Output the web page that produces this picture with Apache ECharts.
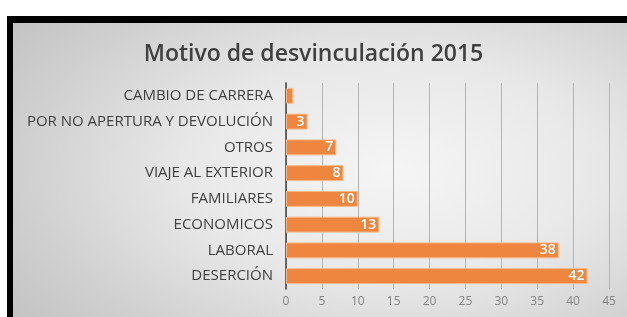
<!DOCTYPE html>
<html>
<head>
<meta charset="utf-8">
<script src="https://cdn.jsdelivr.net/npm/echarts@6/dist/echarts.min.js"></script>
<style>
  html, body { margin: 0; padding: 0; background: #ffffff; width: 627px; height: 317px; overflow: hidden; }
  #frame { position: absolute; left: 7px; top: 16px; width: 620px; height: 301px; background: #000; }
  #panel { position: absolute; left: 13px; top: 23px; width: 614px; height: 294px;
    background: radial-gradient(ellipse 75% 85% at 62% 50%, #f5f5f5 0%, #e8e8e8 45%, #d0d0d0 80%, #c4c4c4 100%); }
  #chart { position: absolute; left: 0; top: 0; width: 627px; height: 317px; }
</style>
</head>
<body>
<div id="frame"></div>
<div id="panel"></div>
<div id="chart"></div>
<script>
const titleText = 'Motivo de desvinculación 2015';
const categories = ['CAMBIO DE CARRERA', 'POR NO APERTURA Y DEVOLUCIÓN', 'OTROS', 'VIAJE AL EXTERIOR', 'FAMILIARES', 'ECONOMICOS', 'LABORAL', 'DESERCIÓN'];
const values = [1, 3, 7, 8, 10, 13, 38, 42];
const xTicks = [0, 5, 10, 15, 20, 25, 30, 35, 40, 45];

const chart = echarts.init(document.getElementById('chart'), null, { renderer: 'canvas' });
chart.setOption({
  backgroundColor: 'transparent',
  animation: false,
  title: {
    text: titleText,
    left: 'center',
    top: 38,
    textStyle: { fontFamily: 'Open Sans', fontSize: 23, fontWeight: 600, color: '#404040' }
  },
  grid: { left: 286, right: 18, top: 83, bottom: 28, containLabel: false },
  xAxis: {
    type: 'value',
    min: xTicks[0],
    max: xTicks[xTicks.length - 1],
    interval: 5,
    axisLine: { show: false },
    axisTick: { show: false },
    splitLine: { show: true, lineStyle: { color: '#b4b4b4', width: 1 } },
    axisLabel: { color: '#858585', fontFamily: 'Open Sans', fontSize: 12, margin: 7 }
  },
  yAxis: {
    type: 'category',
    data: categories,
    inverse: true,
    axisLine: { show: true, lineStyle: { color: '#404040', width: 1.5 } },
    axisTick: { show: false },
    axisLabel: { color: '#404040', fontFamily: 'Open Sans', fontSize: 15, margin: 13 }
  },
  series: [{
    type: 'bar',
    data: values.map((v, i) => ({ value: v, label: { show: i !== 0 } })),
    barCategoryGap: '38%',
    itemStyle: { color: '#ef8640', borderColor: '#f6b98c', borderWidth: 1 },
    label: {
      show: true,
      position: 'insideRight',
      distance: 3,
      color: '#ffffff',
      fontFamily: 'Open Sans',
      fontWeight: 600,
      fontSize: 14
    }
  }]
});
</script>
</body>
</html>
